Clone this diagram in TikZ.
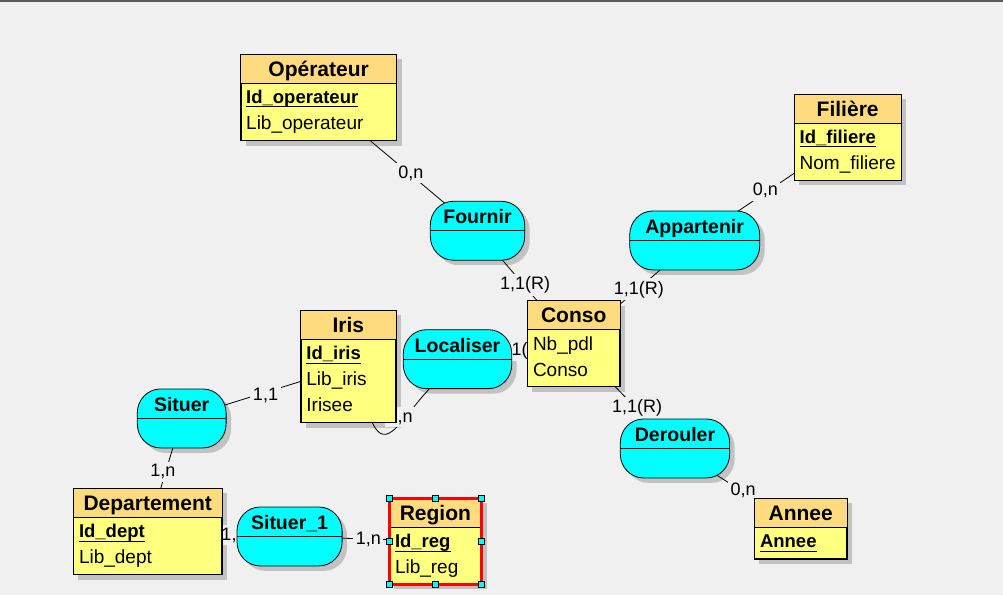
\documentclass[tikz,border=0pt]{standalone}
\usepackage{fontspec}
\setmainfont{Liberation Sans}
\usetikzlibrary{calc}
\pgfdeclarelayer{back}
\pgfdeclarelayer{conn}
\pgfdeclarelayer{lab}
\pgfsetlayers{back,conn,lab,main}

\definecolor{bgc}{HTML}{F0F0F0}
\definecolor{hdrc}{HTML}{FFDB80}
\definecolor{bodyc}{HTML}{FFFF80}
\definecolor{relc}{HTML}{00FFFF}
\definecolor{shdc}{HTML}{C2C2C2}
\definecolor{topc}{HTML}{5A5A5A}
\definecolor{selc}{HTML}{FF0000}

\tikzset{
 entbox/.style={draw=black, line width=0.8pt, fill=bodyc, inner sep=0pt, anchor=north west},
 relframe/.style={draw=none, inner sep=0pt, anchor=north west, minimum height=58.5pt},
 relfill/.style={draw=black, line width=0.8pt, fill=relc},
 shdfill/.style={fill=shdc},
 enttitle/.style={font=\fontsize{21}{24}\selectfont\bfseries, inner sep=0pt, anchor=base},
 reltitle/.style={font=\fontsize{19.5}{23}\selectfont\bfseries, inner sep=0pt, anchor=base},
 attr/.style={font=\fontsize{19}{22}\selectfont, inner sep=0pt, anchor=base west},
 idattr/.style={font=\fontsize{18.5}{22}\selectfont\bfseries, inner sep=0pt, anchor=base west},
 card/.style={font=\fontsize{18}{21}\selectfont, inner sep=2.5pt, fill=bgc, anchor=base},
 conn/.style={draw=black, line width=0.8pt},
 uline/.style={draw=black, line width=1pt},
 hline/.style={draw=black, line width=0.8pt},
 handle/.style={draw=black, line width=0.7pt, fill=relc, minimum size=6pt, inner sep=0pt},
}

% entity: name, x, y, width, height, title
\newcommand\mcdEnt[6]{%
 \node[entbox, minimum width=#4pt, minimum height=#5pt] (#1) at (#2,#3) {};
 \fill[hdrc] (#1.north west) rectangle ([yshift=-29pt]#1.north east);
 \draw[hline] ([yshift=-29pt]#1.north west) -- ([yshift=-29pt]#1.north east);
 \draw[hline] (#1.north west) rectangle (#1.south east);
 \node[enttitle] (#1-title) at ([yshift=-22pt]#1.north) {#6};
 \begin{pgfonlayer}{back}
 \fill[shdc] ([shift={(5pt,-5pt)}]#1.north west) rectangle ([shift={(5pt,-5pt)}]#1.south east);
 \end{pgfonlayer}
}
% rounded (elliptic corners) outline of a relation frame node: node, style
\newcommand\relShape[2]{%
 \path[#2] ([xshift=23pt]#1.north west) -- ([xshift=-23pt]#1.north east)
   arc[start angle=90, end angle=0, x radius=23pt, y radius=24pt]
   -- ([yshift=24pt]#1.south east)
   arc[start angle=0, end angle=-90, x radius=23pt, y radius=24pt]
   -- ([xshift=23pt]#1.south west)
   arc[start angle=-90, end angle=-180, x radius=23pt, y radius=24pt]
   -- ([yshift=-24pt]#1.north west)
   arc[start angle=180, end angle=90, x radius=23pt, y radius=24pt] -- cycle;
}
% relation: name, x, y, width, title
\newcommand\mcdRel[5]{%
 \node[relframe, minimum width=#4pt] (#1) at (#2,#3) {};
 \relShape{#1}{relfill}
 \draw[hline] (#1.west) -- (#1.east);
 \node[reltitle] (#1-title) at ([yshift=-22.5pt]#1.north) {#5};
 \begin{pgfonlayer}{back}
 \node[relframe, minimum width=#4pt] (#1-shd) at (#2+5,#3+5) {};
 \relShape{#1-shd}{shdfill}
 \end{pgfonlayer}
}
\newcommand\mcdUnder[1]{\draw[uline] ([yshift=-3.5pt]#1.base west) -- ([yshift=-3.5pt]#1.base east);}

\begin{document}
\begin{tikzpicture}[x=1pt,y=-1pt]
\useasboundingbox (0,0) rectangle (1003,595);
\begin{pgfonlayer}{back}
 \fill[bgc] (0,0) rectangle (1003,595);
 \fill[topc] (0,0) rectangle (1003,1.5);
\end{pgfonlayer}

% ---------- entities ----------
\mcdEnt{op}{240.5}{54}{155.5}{86}{Opérateur}
\node[idattr] (op-a1) at ([xshift=5.5pt,yshift=-49.3pt]op.north west) {Id\_operateur};
\mcdUnder{op-a1}
\node[attr] (op-a2) at ([xshift=5.5pt,yshift=-75.3pt]op.north west) {Lib\_operateur};

\mcdEnt{fil}{794}{94}{106.5}{85.5}{Filière}
\node[idattr] (fil-a1) at ([xshift=5.5pt,yshift=-49.3pt]fil.north west) {Id\_filiere};
\mcdUnder{fil-a1}
\node[attr] (fil-a2) at ([xshift=5.5pt,yshift=-75.3pt]fil.north west) {Nom\_filiere};

\mcdEnt{iris}{300.7}{310.3}{94.6}{111.7}{Iris}
\node[idattr] (iris-a1) at ([xshift=5.5pt,yshift=-49.3pt]iris.north west) {Id\_iris};
\mcdUnder{iris-a1}
\node[attr] (iris-a2) at ([xshift=5.5pt,yshift=-75.3pt]iris.north west) {Lib\_iris};
\node[attr] (iris-a3) at ([xshift=5.5pt,yshift=-101.3pt]iris.north west) {Irisee};

\mcdEnt{conso}{527.3}{300.7}{92}{85.3}{Conso}
\node[attr] (conso-a1) at ([xshift=5.5pt,yshift=-49.3pt]conso.north west) {Nb\_pdl};
\node[attr] (conso-a2) at ([xshift=5.5pt,yshift=-75.3pt]conso.north west) {Conso};

\mcdEnt{dept}{73.3}{488.3}{148}{85.7}{Departement}
\node[idattr] (dept-a1) at ([xshift=5.5pt,yshift=-49.3pt]dept.north west) {Id\_dept};
\mcdUnder{dept-a1}
\node[attr] (dept-a2) at ([xshift=5.5pt,yshift=-75.3pt]dept.north west) {Lib\_dept};

\mcdEnt{region}{389.3}{498.3}{91.4}{85}{Region}
\node[idattr] (region-a1) at ([xshift=5.5pt,yshift=-49.3pt]region.north west) {Id\_reg};
\mcdUnder{region-a1}
\node[attr] (region-a2) at ([xshift=5.5pt,yshift=-75.3pt]region.north west) {Lib\_reg};
\draw[selc, line width=3pt] (region.north west) rectangle (region.south east);
\node[handle] (rh1) at (region.north west) {};
\node[handle] (rh2) at (region.north) {};
\node[handle] (rh3) at (region.north east) {};
\node[handle] (rh4) at (region.west) {};
\node[handle] (rh5) at (region.east) {};
\node[handle] (rh6) at (region.south west) {};
\node[handle] (rh7) at (region.south) {};
\node[handle] (rh8) at (region.south east) {};

\mcdEnt{annee}{754.3}{498.3}{92}{60}{Annee}
\node[idattr] (annee-a1) at ([xshift=5.5pt,yshift=-49.3pt]annee.north west) {Annee};
\mcdUnder{annee-a1}

% ---------- relations ----------
\mcdRel{fournir}{430.3}{201.3}{94}{Fournir}
\mcdRel{appart}{629.7}{211}{129.6}{Appartenir}
\mcdRel{localiser}{403.3}{329.7}{108}{Localiser}
\mcdRel{situer}{137.3}{389}{88.4}{Situer}
\mcdRel{situerA}{237}{507}{104.7}{Situer\_1}
\mcdRel{derouler}{620.3}{419}{109}{Derouler}

% ---------- connectors ----------
\begin{pgfonlayer}{conn}
\draw[conn] (op.center) -- (fournir.center);
\draw[conn] (fournir.center) -- (conso.center);
\draw[conn] (appart.center) -- (conso.center);
\draw[conn] (appart.center) -- (fil.center);
\draw[conn] (conso.center) -- (derouler.center);
\draw[conn] (derouler.center) -- (annee.center);
\draw[conn] (localiser.center) -- (conso.center);
\draw[conn] ([xshift=-28pt]localiser.south) .. controls +(-28,30) and +(14,30) .. ([xshift=24pt]iris.south);
\draw[conn] (situer.center) -- (iris.center);
\draw[conn] (situer.center) -- (dept.center);
\draw[conn] (dept.center) -- (situerA.center);
\draw[conn] (situerA.center) -- (region.center);
\end{pgfonlayer}

% ---------- cardinalities ----------
\begin{pgfonlayer}{lab}
\node[card] (c1) at (410.8,178.3) {0,n};
\node[card] (c2) at (525.2,289.5) {1,1(R)};
\node[card] (c3) at (638.8,294) {1,1(R)};
\node[card] (c4) at (765.3,195.7) {0,n};
\node[card] (c5) at (637.2,412.3) {1,1(R)};
\node[card] (c6) at (743,495.7) {0,n};
\node[card] (c7) at (400,422) {0,n};
\node[card] (c8) at (265.5,400.7) {1,1};
\node[card] (c9) at (162.8,476.7) {1,n};
\node[card] (c10) at (234,540) {1,n};
\node[card] (c11) at (368.3,544) {1,n};
\node[card] (c12) at (521.5,355) {1,1(R)};
\end{pgfonlayer}
\end{tikzpicture}
\end{document}
